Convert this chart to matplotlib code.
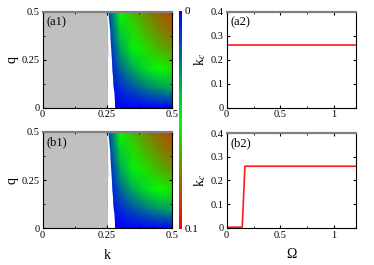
import numpy as np
import matplotlib.pyplot as plt
from matplotlib.colors import LinearSegmentedColormap
from matplotlib.ticker import MultipleLocator

plt.rcParams['font.family'] = ['Liberation Serif', 'DejaVu Serif']
plt.rcParams['font.size'] = 7.5
plt.rcParams['mathtext.fontset'] = 'stix'

# colour field (value 0 .. 0.1)
k_grid = [0.25, 0.30, 0.35, 0.40, 0.45, 0.50]
q_grid = [0.0, 0.1, 0.2, 0.3, 0.4, 0.5]
field = [
    [0.000, 0.000, 0.000, 0.000, 0.000, 0.000],
    [0.000, 0.008, 0.016, 0.023, 0.029, 0.033],
    [0.000, 0.019, 0.033, 0.043, 0.050, 0.056],
    [0.000, 0.031, 0.047, 0.056, 0.064, 0.070],
    [0.004, 0.041, 0.056, 0.065, 0.073, 0.079],
    [0.010, 0.050, 0.063, 0.073, 0.080, 0.086],
]

# boundaries of the grey (no solution) and white strips
q_edge = [0.0, 0.04, 0.08, 0.12, 0.16, 0.20, 0.24, 0.28, 0.32, 0.36, 0.40, 0.44, 0.48, 0.5]
gray_edge = [0.251, 0.249, 0.249, 0.250, 0.251, 0.251, 0.251, 0.252, 0.252, 0.251, 0.250, 0.249, 0.248, 0.248]
color_start = [0.279, 0.278, 0.276, 0.272, 0.271, 0.268, 0.267, 0.265, 0.263, 0.261, 0.260, 0.257, 0.254, 0.253]

# critical k vs Omega
omega_a = [0.0, 1.2]
kc_a = [0.26, 0.26]
omega_b = [0.0, 0.145, 0.17, 1.2]
kc_b = [0.003, 0.003, 0.26, 0.26]

cmap = LinearSegmentedColormap.from_list('bgr', [(0, 0, 1), (0, 1, 0), (1, 0, 0)])

fig = plt.figure(figsize=(3.74, 2.65), dpi=100)


def style(ax):
    ax.tick_params(direction='in', which='both', top=True, right=True, pad=2, length=2.5)
    ax.tick_params(which='minor', length=1.5)
    for s in ['left', 'right', 'bottom']:
        ax.spines[s].set_linewidth(0.8)
    ax.spines['top'].set_color('0.5')
    ax.spines['top'].set_linewidth(1.6)


def map_panel(rect, label, xlabel=False):
    ax = fig.add_axes(rect)
    K, Q = np.meshgrid(k_grid, q_grid)
    m = ax.pcolormesh(K, Q, np.array(field), cmap=cmap, vmin=0, vmax=0.1, shading='gouraud')
    ax.fill_betweenx(q_edge, 0, gray_edge, color='#c0c0c0', lw=0)
    ax.fill_betweenx(q_edge, gray_edge, color_start, color='white', lw=0)
    ax.set_xlim(0, 0.5)
    ax.set_ylim(0, 0.5)
    ax.set_xticks([0, 0.25, 0.5])
    ax.set_xticklabels(['0', '0.25', '0.5'])
    ax.set_yticks([0, 0.25, 0.5])
    ax.set_yticklabels(['0', '0.25', '0.5'])
    ax.xaxis.set_minor_locator(MultipleLocator(0.125))
    ax.yaxis.set_minor_locator(MultipleLocator(0.125))
    style(ax)
    ax.set_ylabel('q', fontsize=10, labelpad=2)
    if xlabel:
        ax.set_xlabel('k', fontsize=10, labelpad=6)
    ax.text(0.03, 0.95, label, transform=ax.transAxes, fontsize=9, va='top', ha='left')
    return m


def kc_panel(rect, label, om, kc, xlabel=False):
    ax = fig.add_axes(rect)
    ax.plot(om, kc, color='#ff1a1a', lw=1.2)
    ax.set_xlim(0, 1.2)
    ax.set_ylim(0, 0.4)
    ax.set_xticks([0, 0.5, 1])
    ax.set_xticklabels(['0', '0.5', '1'])
    ax.set_yticks([0, 0.1, 0.2, 0.3, 0.4])
    ax.set_yticklabels(['0', '0.1', '0.2', '0.3', '0.4'])
    ax.xaxis.set_minor_locator(MultipleLocator(0.25))
    style(ax)
    ax.set_ylabel('k$_c$', fontsize=10, labelpad=2)
    if xlabel:
        ax.set_xlabel('Ω', fontsize=10, labelpad=6)
    ax.text(0.03, 0.95, label, transform=ax.transAxes, fontsize=9, va='top', ha='left')


m = map_panel([0.114, 0.594, 0.345, 0.362], '(a1)')
map_panel([0.114, 0.138, 0.345, 0.365], '(b1)', xlabel=True)
kc_panel([0.606, 0.594, 0.345, 0.362], '(a2)', omega_a, kc_a)
kc_panel([0.606, 0.140, 0.345, 0.358], '(b2)', omega_b, kc_b, xlabel=True)

cax = fig.add_axes([0.479, 0.136, 0.008, 0.823])
cb = fig.colorbar(m, cax=cax, ticks=[0, 0.1])
cb.set_ticklabels(['0', '0.1'])
cb.outline.set_visible(False)
cax.invert_yaxis()
cax.tick_params(length=0, pad=2, labelsize=8)

fig.savefig('out.png', dpi=100)
